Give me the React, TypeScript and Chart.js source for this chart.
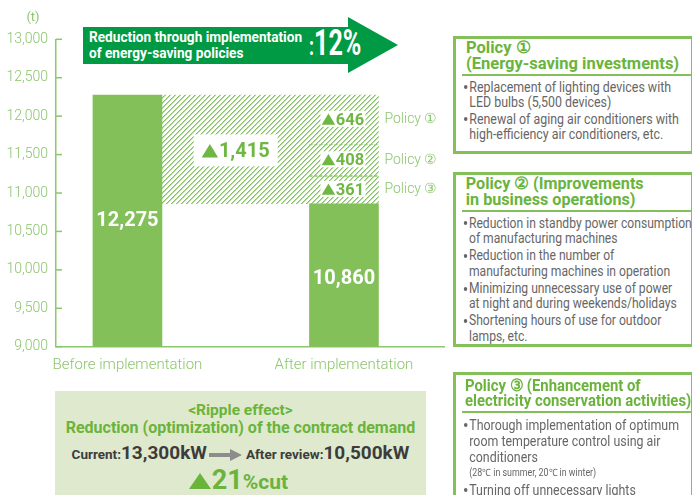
import React, { useEffect, useRef } from 'react';
import { Chart, registerables } from 'chart.js';

Chart.register(...registerables);

// ---------- data ----------
const categories = ['Before implementation', 'After implementation'];
const emissions = [12275, 10860];
const totalReduction = 1415;
const policyNames = ['Policy ①', 'Policy ②', 'Policy ③'];
const policyReductions = [646, 408, 361];
const yTickValues = [9000, 9500, 10000, 10500, 11000, 11500, 12000, 12500, 13000];
const reductionRate = '12%';

const policy1Items = [
  ['Replacement of lighting devices with', 'LED bulbs (5,500 devices)'],
  ['Renewal of aging air conditioners with', 'high-efficiency air conditioners, etc.'],
];
const policy2Items = [
  ['Reduction in standby power consumption', 'of manufacturing machines'],
  ['Reduction in the number of', 'manufacturing machines in operation'],
  ['Minimizing unnecessary use of power', 'at night and during weekends/holidays'],
  ['Shortening hours of use for outdoor', 'lamps, etc.'],
];
const policy3Items = [
  ['Thorough implementation of optimum', 'room temperature control using air', 'conditioners'],
  ['Turning off unnecessary lights'],
];
const contractCurrent = '13,300kW';
const contractAfter = '10,500kW';
const contractCut = '21';

// ---------- style ----------
const BAR = '#83c05a';
const AXIS = '#8cc66d';
const LABEL_GREEN = '#6fb743';
const TITLE_GREEN = '#6ab43c';
const DARK_GREEN = '#009a44';
const GRAY = '#666666';
const FONT = 'Roboto, "Liberation Sans", sans-serif';

function makeHatch(): CanvasPattern | string {
  const n = 5;
  const c = document.createElement('canvas');
  c.width = n;
  c.height = n;
  const g = c.getContext('2d');
  if (!g) return '#ffffff';
  g.fillStyle = '#ffffff';
  g.fillRect(0, 0, n, n);
  for (let y = 0; y < n; y++) {
    const x = n - 1 - y;
    g.fillStyle = '#86c364';
    g.fillRect(x, y, 1, 1);
    g.fillStyle = '#b8dca3';
    g.fillRect((x + 1) % n, y, 1, 1);
  }
  const p = g.createPattern(c, 'repeat');
  return p || '#ffffff';
}

const fmt = (v: number) => v.toLocaleString('en-US');

function segments() {
  // stacked from the bottom: policy ③, ②, ①
  const out: { name: string; value: number; lo: number; hi: number }[] = [];
  let lo = emissions[1];
  for (let i = policyReductions.length - 1; i >= 0; i--) {
    const hi = lo + policyReductions[i];
    out.push({ name: policyNames[i], value: policyReductions[i], lo, hi });
    lo = hi;
  }
  return out;
}

// draws "▲<number>" centred at cx, vertically centred at cy
function drawDelta(ctx: CanvasRenderingContext2D, value: number, cx: number, cy: number, size: number, boxW: number, boxH: number) {
  const txt = fmt(value);
  ctx.font = `bold ${size}px ${FONT}`;
  const tw = ctx.measureText(txt).width;
  const triW = size * 0.82;
  const triH = size * 0.68;
  const gap = size * 0.04;
  const total = triW + gap + tw;
  const x0 = cx - total / 2;
  const cap = size * 0.711;
  const base = cy + cap / 2;
  ctx.fillStyle = '#ffffff';
  ctx.fillRect(cx - boxW / 2, cy - boxH / 2, boxW, boxH);
  ctx.fillStyle = LABEL_GREEN;
  ctx.beginPath();
  ctx.moveTo(x0, base);
  ctx.lineTo(x0 + triW, base);
  ctx.lineTo(x0 + triW / 2, base - triH);
  ctx.closePath();
  ctx.fill();
  ctx.textAlign = 'left';
  ctx.textBaseline = 'alphabetic';
  ctx.fillText(txt, x0 + triW + gap, base);
}

const overlayPlugin = {
  id: 'overlay',
  afterDatasetsDraw(chart: any) {
    const { ctx } = chart;
    const xs = chart.scales.x;
    const ys = chart.scales.y;
    ctx.save();
    // inner tick marks
    ctx.strokeStyle = AXIS;
    ctx.lineWidth = 1.5;
    yTickValues.forEach((v) => {
      const py = ys.getPixelForValue(v);
      ctx.beginPath();
      ctx.moveTo(xs.left, py);
      ctx.lineTo(xs.left + 6, py);
      ctx.stroke();
    });

    const segs = segments();
    const ax = xs.getPixelForValue(1);
    const half = 34.5;
    // dashed dividers
    ctx.setLineDash([3, 2]);
    ctx.lineWidth = 1.3;
    segs.slice(0, -1).forEach((s) => {
      const py = ys.getPixelForValue(s.hi);
      ctx.beginPath();
      ctx.moveTo(ax - half, py);
      ctx.lineTo(ax + half, py);
      ctx.stroke();
    });
    ctx.setLineDash([]);

    // policy labels
    segs.forEach((s) => {
      const py = ys.getPixelForValue((s.lo + s.hi) / 2) - 1;
      drawDelta(ctx, s.value, ax - 1, py, 16.5, 45, 16);
      ctx.font = `300 14px ${FONT}`;
      ctx.fillStyle = AXIS;
      ctx.textAlign = 'left';
      ctx.textBaseline = 'middle';
      ctx.fillText(s.name, ax + half + 6, py + 1);
    });

    // total reduction label
    const mx = xs.getPixelForValue(0.5);
    const my = ys.getPixelForValue((emissions[0] + emissions[1]) / 2) + 1;
    drawDelta(ctx, totalReduction, mx, my, 20, 84, 32);

    // values inside the solid bars
    ctx.fillStyle = '#ffffff';
    ctx.font = `bold 20px ${FONT}`;
    ctx.textAlign = 'center';
    ctx.textBaseline = 'middle';
    ctx.fillText(fmt(emissions[0]), xs.getPixelForValue(0), ys.getPixelForValue(emissions[0]) + 126);
    ctx.fillText(fmt(emissions[1]), xs.getPixelForValue(1), ys.getPixelForValue(emissions[1]) + 75);

    // unit
    ctx.font = `13px ${FONT}`;
    ctx.fillStyle = AXIS;
    ctx.fillText('(t)', 33, 18);
    ctx.restore();
  },
};

function ChartCanvas() {
  const ref = useRef<HTMLCanvasElement | null>(null);
  useEffect(() => {
    if (!ref.current) return;
    const hatch = makeHatch();
    const segs = segments();
    const chart = new Chart(ref.current, {
      type: 'bar',
      data: {
        datasets: [
          {
            label: 'solid',
            data: [
              { x: 0, y: [yTickValues[0], emissions[0]] },
              { x: 1, y: [yTickValues[0], emissions[1]] },
            ] as any,
            backgroundColor: BAR,
            barThickness: 69,
            grouped: false,
            borderWidth: 0,
          },
          {
            label: 'reduction',
            data: [{ x: 0.5, y: [emissions[1], emissions[0]] }] as any,
            backgroundColor: hatch as any,
            barThickness: 148,
            grouped: false,
            borderWidth: 0,
          },
          {
            label: 'policies',
            data: segs.map((s) => ({ x: 1, y: [s.lo, s.hi] })) as any,
            backgroundColor: hatch as any,
            barThickness: 69,
            grouped: false,
            borderWidth: 0,
          },
          {
            label: 'outline',
            data: [{ x: 1, y: [emissions[1], emissions[1] + policyReductions.reduce((a, b) => a + b, 0)] }] as any,
            backgroundColor: 'rgba(0,0,0,0)',
            borderColor: AXIS,
            borderWidth: 2,
            borderSkipped: false,
            barThickness: 67,
            grouped: false,
          },
        ],
      },
      options: {
        animation: false,
        responsive: false,
        layout: { padding: { left: 0, top: 39.3, right: 248, bottom: 108.3 } },
        plugins: { legend: { display: false }, tooltip: { enabled: false } },
        scales: {
          x: {
            type: 'linear',
            offset: false,
            min: -0.33,
            max: 1.462,
            grid: { display: false, drawTicks: false, offset: false },
            border: { display: true, color: AXIS, width: 1.5 },
            afterBuildTicks: (s: any) => {
              s.ticks = categories.map((_, i) => ({ value: i }));
            },
            afterFit: (s: any) => {
              s.height = 40;
            },
            ticks: {
              padding: 10,
              color: AXIS,
              font: { family: FONT, size: 15, weight: 300 as any },
              callback: (v: any) => categories[Math.round(Number(v))] ?? '',
              maxRotation: 0,
              autoSkip: false,
            },
          },
          y: {
            type: 'linear',
            min: yTickValues[0],
            max: yTickValues[yTickValues.length - 1],
            grid: { display: false, drawTicks: false },
            border: { display: true, color: AXIS, width: 1.5 },
            afterBuildTicks: (s: any) => {
              s.ticks = yTickValues.map((v) => ({ value: v }));
            },
            afterFit: (s: any) => {
              s.width = 56;
            },
            ticks: {
              padding: 8,
              color: AXIS,
              font: { family: FONT, size: 14, weight: 300 as any },
              callback: (v: any) => fmt(Number(v)),
            },
          },
        },
      },
      plugins: [overlayPlugin],
    });
    return () => chart.destroy();
  }, []);
  return <canvas ref={ref} width={692} height={495} style={{ position: 'absolute', left: 0, top: 0, width: 692, height: 495 }} />;
}

function PolicyBox(props: {
  top: number;
  height: number;
  title: string[];
  items: string[][];
  note?: string;
  titleLh?: number;
  lh?: number;
  titleScale?: number;
  bodyScale?: number;
  padTop?: number;
}) {
  const { top, height, title, items, note } = props;
  const titleLh = props.titleLh ?? 15.5;
  const lh = props.lh ?? 15.5;
  return (
    <div
      style={{
        position: 'absolute',
        left: 453,
        top,
        width: 241,
        height,
        border: `3px solid ${BAR}`,
        boxSizing: 'border-box',
        background: '#fff',
        fontFamily: FONT,
        whiteSpace: 'nowrap',
      }}
    >
      <div
        style={{
          padding: `${props.padTop ?? 1}px 0 0 10px`,
          color: TITLE_GREEN,
          fontWeight: 'bold',
          fontSize: 16.5,
          lineHeight: `${titleLh}px`,
          transform: `scaleX(${props.titleScale ?? 0.98})`,
          transformOrigin: 'left top',
        }}
      >
        {title.map((t, i) => (
          <div key={i}>{t}</div>
        ))}
      </div>
      <div style={{ marginLeft: 6, marginTop: 2.5, height: 2, background: BAR }} />
      <div
        style={{
          paddingLeft: 9,
          paddingTop: 4,
          color: GRAY,
          fontSize: 14,
          lineHeight: `${lh}px`,
          transform: `scaleX(${props.bodyScale ?? 0.885})`,
          transformOrigin: 'left top',
          width: 260,
        }}
      >
        {items.map((lines, i) => (
          <div key={i} style={{ position: 'relative', paddingLeft: 6, marginBottom: 1 }}>
            <span
              style={{
                position: 'absolute',
                left: 0,
                top: lh / 2 - 2,
                width: 4,
                height: 4,
                borderRadius: 2,
                background: GRAY,
              }}
            />
            {lines.map((l, j) => (
              <div key={j}>{l}</div>
            ))}
            {note && i === 0 ? <div style={{ fontSize: 10, lineHeight: '16px' }}>{note}</div> : null}
          </div>
        ))}
      </div>
    </div>
  );
}

export default function App() {
  useEffect(() => {
    document.body.style.margin = '0';
  }, []);
  return (
    <div style={{ position: 'absolute', left: 0, top: 0, width: 692, height: 495, overflow: 'hidden', background: '#fff' }}>
      <ChartCanvas />
      {/* arrow banner */}
      <div
        style={{
          position: 'absolute',
          left: 83,
          top: 17,
          width: 315,
          height: 56,
          background: DARK_GREEN,
          clipPath: 'polygon(0 10px, 265px 10px, 265px 0, 315px 28px, 265px 56px, 265px 47px, 0 47px)',
          color: '#fff',
          fontFamily: FONT,
          fontWeight: 'bold',
          whiteSpace: 'nowrap',
        }}
      >
        <div
          style={{
            position: 'absolute',
            left: 6,
            top: 12,
            fontSize: 15.5,
            lineHeight: '16px',
            transform: 'scaleX(0.88)',
            transformOrigin: 'left top',
          }}
        >
          <div>Reduction through implementation</div>
          <div>of energy-saving policies</div>
        </div>
        <div
          style={{
            position: 'absolute',
            left: 226,
            top: 6,
            fontSize: 37,
            lineHeight: '40px',
            transform: 'scaleX(0.68)',
            transformOrigin: 'left top',
          }}
        >
          <span style={{ fontSize: 26 }}>:</span>
          {reductionRate}
        </div>
      </div>

      <PolicyBox top={36} height={118} title={['Policy ①', '(Energy-saving investments)']} items={policy1Items} titleScale={1.0} />
      <PolicyBox
        top={172}
        height={175}
        title={['Policy ② (Improvements', 'in business operations)']}
        items={policy2Items}
        lh={15.8}
        bodyScale={0.865}
      />
      <PolicyBox
        top={372}
        height={140}
        title={['Policy ③ (Enhancement of', 'electricity conservation activities)']}
        items={policy3Items}
        note="(28℃ in summer, 20℃ in winter)"
        titleLh={14.5}
        lh={16}
        titleScale={0.9}
        padTop={4}
      />

      {/* ripple effect box */}
      <div
        style={{
          position: 'absolute',
          left: 55,
          top: 391,
          width: 371,
          height: 110,
          background: '#dfe9cd',
          fontFamily: FONT,
          fontWeight: 'bold',
          textAlign: 'center',
          whiteSpace: 'nowrap',
        }}
      >
        <div style={{ marginTop: 10, color: TITLE_GREEN, fontSize: 15.5, lineHeight: '18px' }}>&lt;Ripple effect&gt;</div>
        <div style={{ color: TITLE_GREEN, fontSize: 16, lineHeight: '18px' }}>Reduction (optimization) of the contract demand</div>
        <div style={{ marginTop: 5, color: '#3c3c3c', lineHeight: '22px' }}>
          <span style={{ fontSize: 13.5 }}>Current:</span>
          <span style={{ fontSize: 19 }}>{contractCurrent}</span>
          <svg width="33" height="12" viewBox="0 0 33 12" style={{ margin: '0 4px 0 2px', verticalAlign: 'middle' }}>
            <rect x="0" y="4" width="23" height="4" fill="#8c8c8c" />
            <polygon points="21,0 33,6 21,12" fill="#8c8c8c" />
          </svg>
          <span style={{ fontSize: 13.5 }}>After review:</span>
          <span style={{ fontSize: 19 }}>{contractAfter}</span>
        </div>
        <div style={{ color: TITLE_GREEN, lineHeight: '30px', marginLeft: -4 }}>
          <svg width="22" height="16" viewBox="0 0 22 16" style={{ marginRight: 1, verticalAlign: 'baseline' }}>
            <polygon points="0,16 22,16 11,0" fill={TITLE_GREEN} />
          </svg>
          <span style={{ fontSize: 27 }}>{contractCut}</span>
          <span style={{ fontSize: 21 }}>%cut</span>
        </div>
      </div>
    </div>
  );
}
